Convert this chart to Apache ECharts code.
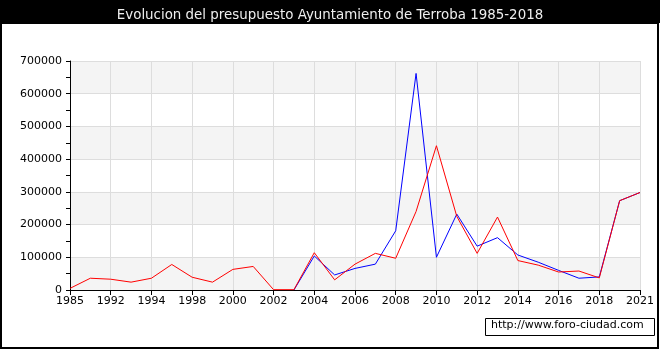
<!DOCTYPE html>
<html><head><meta charset="utf-8">
<script src="https://cdn.jsdelivr.net/npm/echarts@6/dist/echarts.min.js"></script>
<style>html,body{margin:0;padding:0;background:#fff}#c{width:660px;height:350px}</style>
</head><body><div id="c"></div>
<script>
var titleText = 'Evolucion del presupuesto Ayuntamiento de Terroba 1985-2018';
var years = ['1985','1991','1992','1993','1994','1997','1998','1999','2000','2001','2002','2003','2004','2005','2006','2007','2008','2009','2010','2011','2012','2013','2014','2015','2016','2017','2018','2020','2021'];
var ingresos = [null,null,null,null,null,null,null,null,null,null,null,0,104000,46000,66000,79000,181000,662000,100000,232000,134000,160000,107000,85000,60000,36000,40000,273000,298000];
var gastos = [5000,36000,33000,24000,36000,78000,39000,24000,63000,72000,1000,1000,114000,31000,79000,112000,97000,240000,441000,225000,112000,223000,90000,76000,55000,58000,37000,273000,298000];
var yTicks = {min:0, max:700000, interval:100000};

var chart = echarts.init(document.getElementById('c'), null, {renderer:'canvas'});
var font = 'DejaVu Sans, Verdana, sans-serif';
chart.setOption({
  animation:false,
  backgroundColor:'#fff',
  title:{text:titleText,left:'center',top:4,textStyle:{color:'#eeeeee',fontFamily:font,fontSize:13.4,fontWeight:'normal'}},
  graphic:[
    {type:'rect',z:-1,shape:{x:0,y:0,width:660,height:23},style:{fill:'#000'}},
    {type:'rect',z:-1,shape:{x:1,y:23,width:657,height:325},style:{fill:'none',stroke:'#000',lineWidth:2}},
    {type:'rect',shape:{x:485.5,y:318.5,width:169,height:17},style:{fill:'#fff',stroke:'#000',lineWidth:1}},
    {type:'text',left:491,top:320,style:{text:'http://www.foro-ciudad.com',fill:'#000',font:'11px '+font}}
  ],
  grid:{left:70,right:20,top:61,bottom:60},
  xAxis:{type:'category',data:years,boundaryGap:false,
    axisLine:{lineStyle:{color:'#000'}},
    axisTick:{interval:1,length:5,inside:false,lineStyle:{color:'#000'}},
    axisLabel:{interval:1,color:'#000',fontFamily:font,fontSize:11,margin:6},
    splitLine:{show:true,interval:1,lineStyle:{color:'#dddddd'}}},
  yAxis:{type:'value',min:yTicks.min,max:yTicks.max,interval:yTicks.interval,
    axisLine:{show:true,lineStyle:{color:'#000'}},
    axisTick:{show:true,length:4,lineStyle:{color:'#000'}},
    minorTick:{show:true,splitNumber:2,length:4,lineStyle:{color:'#000'}},
    axisLabel:{color:'#000',fontFamily:font,fontSize:11,margin:8,formatter:function(v){return String(v);}},
    splitLine:{lineStyle:{color:'#dddddd'}},
    splitArea:{show:true,areaStyle:{color:['#f4f4f4','#ffffff']}}},
  series:[
    {type:'line',data:ingresos,showSymbol:false,lineStyle:{color:'#0000ff',width:1},itemStyle:{color:'#0000ff'}},
    {type:'line',data:gastos,showSymbol:false,lineStyle:{color:'#ff0000',width:1},itemStyle:{color:'#ff0000'}}
  ]
});
</script></body></html>
